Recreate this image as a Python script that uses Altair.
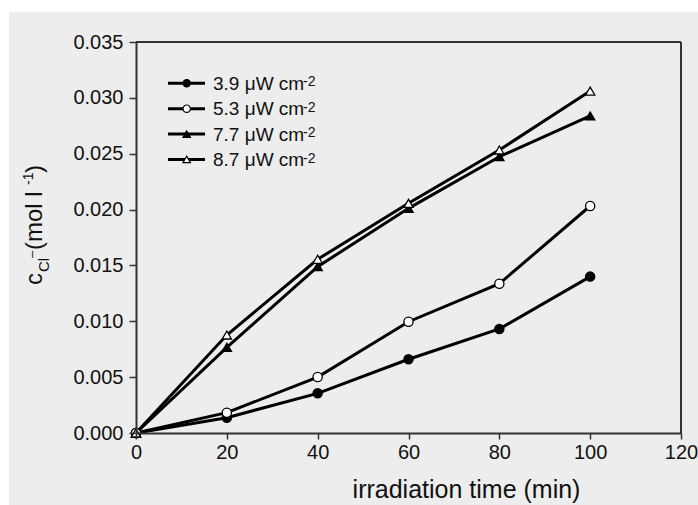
import altair as alt
import pandas as pd

# irradiation time (min)
time_min = [0, 20, 40, 60, 80, 100]

# chloride concentration (mol/l) for each irradiance
c_39 = [0.0, 0.00137, 0.00355, 0.00660, 0.00931, 0.01400]
c_53 = [0.0, 0.00182, 0.00501, 0.00996, 0.01336, 0.02032]
c_77 = [0.0, 0.00767, 0.01489, 0.02011, 0.02473, 0.02838]
c_87 = [0.0, 0.00877, 0.01555, 0.02056, 0.02533, 0.03061]

series_names = ["3.9 \u03bcW cm", "5.3 \u03bcW cm", "7.7 \u03bcW cm", "8.7 \u03bcW cm"]
series_values = [c_39, c_53, c_77, c_87]
series_shapes = ["circle", "circle", "triangle-up", "triangle-up"]
series_fills = ["black", "white", "black", "white"]

x_ticks = [0, 20, 40, 60, 80, 100, 120]
y_ticks = [0.0, 0.005, 0.010, 0.015, 0.020, 0.025, 0.030, 0.035]

FONT = "Liberation Sans"
W, H = 545, 391

rows = []
for name, vals in zip(series_names, series_values):
    for t, v in zip(time_min, vals):
        rows.append({"series": name, "time": t, "conc": v})
df = pd.DataFrame(rows)

x_enc = alt.X("time:Q", scale=alt.Scale(domain=[0, 120], nice=False),
              axis=alt.Axis(values=x_ticks, format="d", title="irradiation time (min)",
                            titleX=330, titleY=64, titleAlign="center",
                            titleBaseline="alphabetic", titleFontSize=25,
                            titleFontWeight="normal", labelPadding=3,
                            labelFlush=False, tickSize=6, zindex=1))
y_enc = alt.Y("conc:Q", scale=alt.Scale(domain=[0, 0.035], nice=False),
              axis=alt.Axis(values=y_ticks, format=".3f", title=None,
                            labelPadding=6, labelFlush=False, tickSize=7, zindex=1))

shape_scale = alt.Scale(domain=series_names, range=series_shapes)
fill_scale = alt.Scale(domain=series_names, range=series_fills)

one_row = pd.DataFrame({"k": [0]})

# light gray panel behind the whole figure
panel = alt.Chart(one_row).mark_rect(color="#ecedec").encode(
    x=alt.value(-127), x2=alt.value(562), y=alt.value(-30), y2=alt.value(463)
)

# top and right edges of the plot frame
frame_top = alt.Chart(one_row).mark_rule(color="#333", strokeWidth=2).encode(
    x=alt.value(0), x2=alt.value(W), y=alt.value(0)
)
frame_right = alt.Chart(one_row).mark_rule(color="#333", strokeWidth=2).encode(
    x=alt.value(W), y=alt.value(0), y2=alt.value(H)
)

lines = alt.Chart(df).mark_line(color="black", strokeWidth=3).encode(
    x=x_enc, y=y_enc, detail="series:N"
)

points = alt.Chart(df).mark_point(filled=True, stroke="black", strokeWidth=1.3,
                                  opacity=1, size=85).encode(
    x=x_enc, y=y_enc,
    shape=alt.Shape("series:N", scale=shape_scale, legend=None),
    fill=alt.Fill("series:N", scale=fill_scale, legend=None),
)

layers = [panel, frame_top, frame_right, lines, points]

# hand-built legend: line segment, marker, label with superscript
leg_y0, leg_dy = 41.3, 25.4
for i, name in enumerate(series_names):
    cy = leg_y0 + i * leg_dy
    one = pd.DataFrame({"label": [name], "sup": ["-2"]})
    base = alt.Chart(one)
    layers.append(base.mark_rule(color="black", strokeWidth=3).encode(
        x=alt.value(32), x2=alt.value(69), y=alt.value(cy)))
    layers.append(base.mark_point(filled=True, stroke="black", strokeWidth=1.2,
                                  opacity=1, size=55, shape=series_shapes[i],
                                  fill=series_fills[i]).encode(
        x=alt.value(50.7), y=alt.value(cy)))
    layers.append(base.mark_text(font=FONT, fontSize=19, align="left",
                                 baseline="alphabetic", color="#111").encode(
        x=alt.value(77), y=alt.value(cy + 6.5), text="label:N"))
    layers.append(base.mark_text(font=FONT, fontSize=14, align="left",
                                 baseline="alphabetic", color="#111").encode(
        x=alt.value(167), y=alt.value(cy + 3), text="sup:N"))

# y-axis title with subscript and superscripts, rotated
ytitle_parts = [
    ("c", 24, -94, 243),
    ("Cl", 15, -87, 230),
    ("\u2013", 13, -100, 216),
    (" (mol l", 24, -94, 208),
    ("-1", 14, -103, 143),
    (")", 24, -94, 131),
]
for txt, fs, px, py in ytitle_parts:
    layers.append(alt.Chart(pd.DataFrame({"t": [txt]})).mark_text(
        font=FONT, fontSize=fs, angle=270, align="left", baseline="alphabetic",
        color="#111").encode(x=alt.value(px), y=alt.value(py), text="t:N"))

chart = alt.layer(*layers).properties(
    width=W, height=H,
    autosize=alt.AutoSizeParams(type="none"),
    padding={"left": 136, "top": 42, "right": 17, "bottom": 72},
    background="white",
).configure_view(
    stroke=None
).configure_axis(
    domainColor="#333", domainWidth=2, tickColor="#333", tickWidth=1.5,
    labelFont=FONT, labelFontSize=20, labelColor="#111",
    titleFont=FONT, titleColor="#111", grid=False,
)

chart.save("out.html", embed_options={"renderer": "svg", "actions": False})
